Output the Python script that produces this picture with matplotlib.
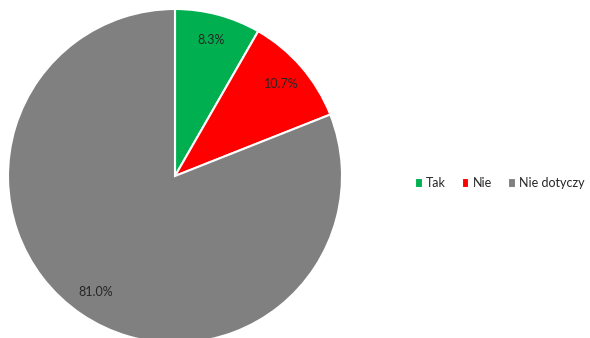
import matplotlib.pyplot as plt

labels = ['Tak', 'Nie', 'Nie dotyczy']
values = [8.3, 10.7, 81.0]
colors = ['#00B050', '#FF0000', '#808080']

plt.rcParams['font.family'] = ['Lato', 'DejaVu Sans']

fig = plt.figure(figsize=(5.9, 3.38), dpi=100)
# pie centre ~ (175, 176) px from top, radius ~167 px
ax = fig.add_axes([8 / 590, -5 / 338, 334 / 590, 334 / 338])
wedges, texts, autotexts = ax.pie(
    values, colors=colors, startangle=90, counterclock=False,
    autopct='%.1f%%', pctdistance=0.84, radius=1,
    wedgeprops=dict(edgecolor='white', linewidth=1.5),
    textprops=dict(fontsize=9, color='#262626'))
ax.set_xlim(-1, 1)
ax.set_ylim(-1, 1)

fig.legend(wedges, labels, loc='center', bbox_to_anchor=(500 / 590, 1 - 183 / 338),
           ncol=3, frameon=False, fontsize=9, handlelength=0.5, handleheight=0.7,
           handletextpad=0.35, columnspacing=1.3, labelcolor='#262626')
for h in fig.legends[0].legend_handles:
    h.set_edgecolor('white')
    h.set_linewidth(0.8)

fig.savefig('out.png', dpi=100)
